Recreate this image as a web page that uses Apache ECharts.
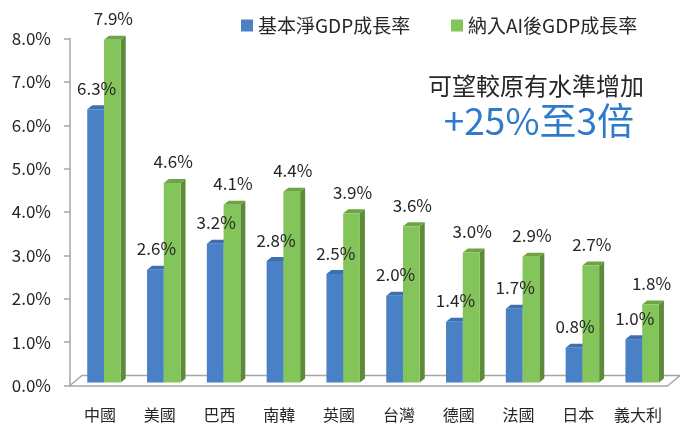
<!DOCTYPE html>
<html>
<head>
<meta charset="utf-8">
<style>
  html, body { margin: 0; padding: 0; background: #fff; }
  #myChart { width: 680px; height: 426px; }
</style>
<script src="https://cdn.jsdelivr.net/npm/echarts@6/dist/echarts.min.js"></script>
</head>
<body>
<div id="myChart"></div>
<script>
var categories = ['中國', '美國', '巴西', '南韓', '英國', '台灣', '德國', '法國', '日本', '義大利']
var baseGrowth = [6.3, 2.6, 3.2, 2.8, 2.5, 2.0, 1.4, 1.7, 0.8, 1.0]
var aiGrowth = [7.9, 4.6, 4.1, 4.4, 3.9, 3.6, 3.0, 2.9, 2.7, 1.8]
var seriesNames = ['基本淨GDP成長率', '納入AI後GDP成長率']

var FONT = '"Noto Sans CJK TC", "Noto Sans", sans-serif'
// 正面 / 側面 / 頂面
var faceColors = [
  { front: '#4a80c6', side: '#355e99', top: '#3d6fb1' },
  { front: '#84c55b', side: '#5d8b39', top: '#6da445' }
]

function toPairs (arr) {
  return arr.map(function (v, i) { return [i, v] })
}

// 立體長條：正面 + 側面 + 頂面 + 數值標籤
function barItem (s) {
  return function (params, api) {
    var i = api.value(0)
    var v = api.value(1)
    var bw = api.size([1, 0])[0]
    var base = api.coord([i, 0])
    var top = api.coord([i, v])
    var w = bw * 0.28
    var x0 = base[0] - bw * 0.22 + s * w + 0.5
    var x1 = x0 + w
    var yb = base[1] - 3
    var yt = top[1] - 3
    var dx = 5, dy = -4
    var c = faceColors[s]
    return {
      type: 'group',
      children: [
        {
          type: 'polygon',
          z2: s * 10 + 1,
          shape: { points: [[x1, yb], [x1 + dx, yb + dy], [x1 + dx, yt + dy], [x1, yt]] },
          style: { fill: c.side }
        },
        {
          type: 'polygon',
          z2: s * 10 + 2,
          shape: { points: [[x0, yt], [x0 + dx, yt + dy], [x1 + dx, yt + dy], [x1, yt]] },
          style: { fill: c.top }
        },
        {
          type: 'rect',
          z2: s * 10 + 3,
          shape: { x: x0, y: yt, width: w, height: yb - yt },
          style: { fill: c.front }
        },
        {
          type: 'text',
          z2: 100,
          style: {
            text: v.toFixed(1) + '%',
            x: (x0 + x1) / 2 + 1,
            y: yt - 21,
            align: 'center',
            verticalAlign: 'middle',
            fontSize: 17,
            fontFamily: FONT,
            fill: '#262626'
          }
        }
      ]
    }
  }
}

// 底板（立體地面）
function floorItem (params, api) {
  var bw = api.size([1, 0])[0]
  var first = api.coord([0, 0])
  var last = api.coord([categories.length - 1, 0])
  var l = first[0] - bw / 2
  var r = last[0] + bw / 2
  var y = first[1]
  var dx = 12, dy = -10
  return {
    type: 'polyline',
    shape: { points: [[l, y], [l + dx, y + dy], [r + dx, y + dy], [r, y]] },
    style: { stroke: '#a6a6a6', lineWidth: 1.5, fill: null }
  }
}

var myChart = echarts.init(document.getElementById('myChart'))
myChart.setOption({
  animation: false,
  textStyle: { fontFamily: FONT },
  grid: { left: 70, right: 12, top: 38.5, bottom: 40.5 },
  legend: [
    {
      left: 236, top: 11,
      icon: 'rect', itemWidth: 12, itemHeight: 12, itemGap: 6,
      data: [seriesNames[0]],
      textStyle: { fontSize: 19, color: '#262626', fontFamily: FONT }
    },
    {
      left: 446, top: 11,
      icon: 'rect', itemWidth: 12, itemHeight: 12, itemGap: 6,
      data: [seriesNames[1]],
      textStyle: { fontSize: 19, color: '#262626', fontFamily: FONT }
    }
  ],
  xAxis: {
    type: 'category',
    data: categories,
    axisLine: { lineStyle: { color: '#a6a6a6', width: 1.5 } },
    axisTick: { length: 4, lineStyle: { color: '#a6a6a6', width: 1.5 } },
    axisLabel: { interval: 0, fontSize: 16, color: '#262626', margin: 21, fontFamily: FONT }
  },
  yAxis: {
    type: 'value',
    min: 0,
    max: 8,
    interval: 1,
    axisLine: { show: true, lineStyle: { color: '#a6a6a6', width: 1.5 } },
    axisTick: { show: true, length: 6, lineStyle: { color: '#a6a6a6', width: 1.5 } },
    splitLine: { show: false },
    axisLabel: {
      fontSize: 17,
      color: '#262626',
      margin: 19,
      fontFamily: FONT,
      formatter: function (v) { return v.toFixed(1) + '%' }
    }
  },
  graphic: [
    {
      type: 'text',
      right: 36, top: 74,
      style: { text: '可望較原有水準增加', fontSize: 24, fill: '#262626', fontFamily: FONT }
    },
    {
      type: 'text',
      right: 46, top: 102,
      style: { text: '+25%至3倍', fontSize: 37, fill: '#2e7bcb', fontFamily: FONT }
    }
  ],
  series: [
    {
      name: 'floor',
      type: 'custom',
      renderItem: floorItem,
      data: [[0, 0]],
      z: 1,
      silent: true
    },
    {
      name: seriesNames[0],
      type: 'custom',
      renderItem: barItem(0),
      itemStyle: { color: faceColors[0].front },
      encode: { x: 0, y: 1 },
      data: toPairs(baseGrowth),
      z: 2
    },
    {
      name: seriesNames[1],
      type: 'custom',
      renderItem: barItem(1),
      itemStyle: { color: faceColors[1].front },
      encode: { x: 0, y: 1 },
      data: toPairs(aiGrowth),
      z: 2
    }
  ]
})
</script>
</body>
</html>
